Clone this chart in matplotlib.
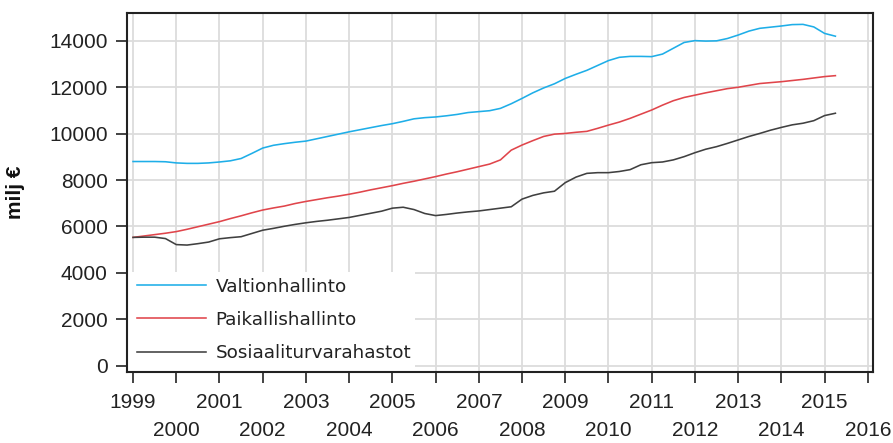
import matplotlib
matplotlib.use("Agg")
import matplotlib.pyplot as plt
from matplotlib.patches import Rectangle
import numpy as np

years_start = 1999
quarters = [years_start + i / 4 for i in range(66)]

valtionhallinto = [
    8800, 8800, 8800, 8790, 8740, 8720, 8720, 8740,
    8780, 8830, 8930, 9150, 9380, 9500, 9570, 9630,
    9680, 9780, 9880, 9980, 10080, 10170, 10260, 10350,
    10430, 10530, 10640, 10690, 10720, 10770, 10830, 10910,
    10950, 10990, 11090, 11290, 11520, 11760, 11970, 12150,
    12380, 12560, 12730, 12940, 13150, 13290, 13330, 13330,
    13320, 13430, 13680, 13930, 14010, 13990, 14000, 14100,
    14250, 14420, 14540, 14590, 14640, 14700, 14710, 14600,
    14320, 14200,
]
paikallishallinto = [
    5530, 5590, 5650, 5710, 5780, 5880, 5990, 6100,
    6210, 6340, 6460, 6590, 6710, 6800, 6880, 6990,
    7080, 7160, 7240, 7310, 7390, 7480, 7580, 7670,
    7760, 7860, 7950, 8050, 8150, 8260, 8360, 8470,
    8580, 8690, 8870, 9290, 9510, 9700, 9880, 9980,
    10010, 10060, 10100, 10230, 10370, 10500, 10660, 10840,
    11020, 11230, 11420, 11560, 11660, 11760, 11850, 11940,
    12000, 12080, 12160, 12200, 12240, 12290, 12340, 12400,
    12460, 12500,
]
sosiaaliturvarahastot = [
    5530, 5540, 5540, 5480, 5220, 5200, 5260, 5330,
    5470, 5520, 5560, 5700, 5840, 5920, 6010, 6090,
    6160, 6220, 6270, 6330, 6390, 6480, 6570, 6660,
    6790, 6830, 6730, 6560, 6470, 6520, 6580, 6630,
    6670, 6730, 6790, 6850, 7180, 7340, 7450, 7520,
    7890, 8130, 8290, 8320, 8320, 8370, 8450, 8660,
    8750, 8780, 8870, 9010, 9180, 9330, 9440, 9580,
    9730, 9880, 10010, 10150, 10270, 10380, 10450, 10560,
    10780, 10880,
]
series_names = ["Valtionhallinto", "Paikallishallinto", "Sosiaaliturvarahastot"]
series_colors = ["#1eaee8", "#e0454b", "#404040"]
odd_years = list(range(1999, 2017, 2))
even_years = list(range(2000, 2017, 2))
y_ticks = [0, 2000, 4000, 6000, 8000, 10000, 12000, 14000]

plt.rcParams["font.family"] = ["Liberation Sans", "DejaVu Sans"]

fig = plt.figure(figsize=(8.93, 4.43), dpi=100)
ax = fig.add_axes([127 / 893, 1 - 372 / 443, 746 / 893, 359 / 443])

lines = []
for vals, name, col in zip([valtionhallinto, paikallishallinto, sosiaaliturvarahastot],
                           series_names, series_colors):
    ln, = ax.plot(quarters, vals, color=col, linewidth=1.15, label=name, zorder=3)
    lines.append(ln)

ax.set_xlim(1998.86, 2016.12)
ax.set_ylim(-270, 15200)
ax.set_yticks(y_ticks)
ax.set_yticklabels([str(v) for v in y_ticks])
ax.set_xticks(odd_years)
ax.set_xticklabels([str(y) for y in odd_years])
ax.set_xticks(even_years, minor=True)
ax.set_xticklabels([str(y) for y in even_years], minor=True)

ax.set_axisbelow(True)
ax.grid(True, which="both", axis="x", color="#dcdcdc", linewidth=1.3)
ax.grid(True, which="major", axis="y", color="#dcdcdc", linewidth=1.3)

ax.tick_params(axis="both", which="both", direction="out", length=8, width=1.2,
               colors="#222222", labelsize=15, labelcolor="#222222")
ax.tick_params(axis="y", pad=6)
ax.tick_params(axis="x", which="major", pad=7.2)
ax.tick_params(axis="x", which="minor", pad=27.6)

for sp in ax.spines.values():
    sp.set_linewidth(1.5)
    sp.set_color("#222222")

ax.set_ylabel("milj €", fontsize=15, fontweight="bold", color="#111111")
ax.yaxis.set_label_coords(-0.137, 0.5)

# white area behind legend
ax.add_patch(Rectangle((0, 0), 0.386, 0.2786, transform=ax.transAxes,
                       facecolor="white", edgecolor="none", zorder=2))

leg = ax.legend(handles=lines, loc="lower left", bbox_to_anchor=(0, 0),
                frameon=False, borderaxespad=0, borderpad=0.55,
                handlelength=3.77, handletextpad=0.5, labelspacing=0.82,
                prop={"family": "DejaVu Sans", "size": 13.2})
for t in leg.get_texts():
    t.set_color("#222222")
leg.set_zorder(4)

fig.savefig("out.png", dpi=100)
